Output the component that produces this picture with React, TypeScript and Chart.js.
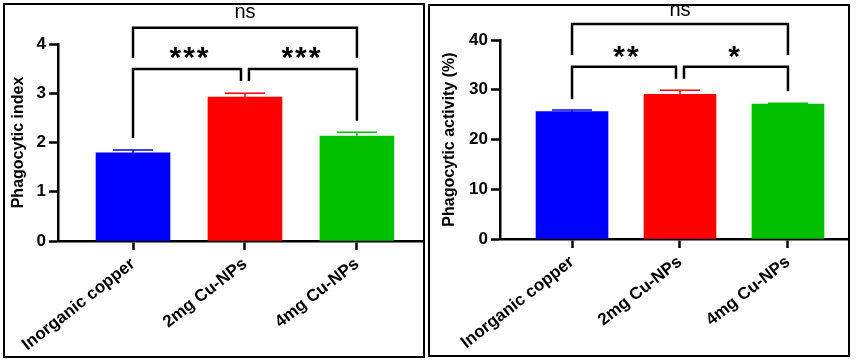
import React, { useEffect, useRef } from 'react';
import { Chart, registerables } from 'chart.js';

Chart.register(...registerables);

const FONT = '"Liberation Sans", Arial, Helvetica, sans-serif';

// ---- data ----
const categories = ['Inorganic copper', '2mg Cu-NPs', '4mg Cu-NPs'];
const barColors = ['#0000FF', '#FF0000', '#00C000'];

const indexMeans = [1.79, 2.92, 2.13];
const indexErrors = [0.06, 0.08, 0.08];
const indexTicks = [0, 1, 2, 3, 4];

const activityMeans = [25.6, 29.1, 27.1];
const activityErrors = [0.35, 0.8, 0.2];
const activityTicks = [0, 10, 20, 30, 40];

// significance brackets (category indices, heights in data units)
const indexBrackets = [
  { from: 0, to: 2, level: 4.33, fromEnd: 3.72, toEnd: 3.72, label: 'ns', labelAt: 4.64 },
  { from: 0, to: 1, level: 3.49, fromEnd: 2.09, toEnd: 3.25, label: '***', labelAt: 3.82 },
  { from: 1, to: 2, level: 3.49, fromEnd: 3.25, toEnd: 2.44, label: '***', labelAt: 3.82 },
];
const activityBrackets = [
  { from: 0, to: 2, level: 43.2, fromEnd: 37.0, toEnd: 37.0, label: 'ns', labelAt: 46.0 },
  { from: 0, to: 1, level: 34.6, fromEnd: 28.1, toEnd: 32.2, label: '**', labelAt: 37.6 },
  { from: 1, to: 2, level: 34.6, fromEnd: 32.2, toEnd: 29.7, label: '*', labelAt: 37.6 },
];

type Bracket = { from: number; to: number; level: number; fromEnd: number; toEnd: number; label: string; labelAt: number };

type Spec = {
  means: number[];
  errors: number[];
  ticks: number[];
  brackets: Bracket[];
  title: string;
  yMax: number;
  xMin: number;
  xMax: number;
  barWidth: number;
  padTop: number;
  yAxisWidth: number;
  xAxisHeight: number;
  titlePad: number;
};

function annotationPlugin(spec: Spec) {
  return {
    id: 'sigAnnotations',
    afterDatasetsDraw(chart: any) {
      const ctx: CanvasRenderingContext2D = chart.ctx;
      const xs = chart.scales.x;
      const ys = chart.scales.y;
      const meta = chart.getDatasetMeta(0);
      ctx.save();
      // error bars (upper only)
      meta.data.forEach((bar: any, i: number) => {
        const cx = bar.x;
        const top = ys.getPixelForValue(spec.means[i] + spec.errors[i]);
        const base = ys.getPixelForValue(spec.means[i]);
        ctx.strokeStyle = barColors[i];
        ctx.lineWidth = 1.5;
        ctx.beginPath();
        ctx.moveTo(cx, base);
        ctx.lineTo(cx, top);
        ctx.moveTo(cx - 20, top);
        ctx.lineTo(cx + 20, top);
        ctx.stroke();
      });
      // brackets
      const gap = 4;
      spec.brackets.forEach((b) => {
        const shares = (idx: number) =>
          spec.brackets.some((o) => o !== b && o.level === b.level && (o.from === idx || o.to === idx));
        const x1 = xs.getPixelForValue(b.from) + (shares(b.from) ? gap : 0);
        const x2 = xs.getPixelForValue(b.to) - (shares(b.to) ? gap : 0);
        const yl = ys.getPixelForValue(b.level);
        ctx.strokeStyle = '#000';
        ctx.lineWidth = 2.5;
        ctx.lineJoin = 'miter';
        ctx.lineCap = 'butt';
        ctx.beginPath();
        ctx.moveTo(x1, ys.getPixelForValue(b.fromEnd));
        ctx.lineTo(x1, yl);
        ctx.lineTo(x2, yl);
        ctx.lineTo(x2, ys.getPixelForValue(b.toEnd));
        ctx.stroke();
        // label
        const isStar = b.label.indexOf('*') >= 0;
        const spacing = isStar ? 2 : 0;
        ctx.fillStyle = '#000';
        ctx.font = isStar ? `bold 30px ${FONT}` : `20px ${FONT}`;
        (ctx as any).letterSpacing = `${spacing}px`;
        ctx.textAlign = 'center';
        ctx.textBaseline = 'alphabetic';
        const m = ctx.measureText(b.label);
        const ty = ys.getPixelForValue(b.labelAt) + (m.actualBoundingBoxAscent - m.actualBoundingBoxDescent) / 2;
        const tx = (xs.getPixelForValue(b.from) + xs.getPixelForValue(b.to)) / 2 + spacing / 2;
        ctx.fillText(b.label, tx, ty);
      });
      ctx.restore();
    },
  };
}

function makeConfig(spec: Spec): any {
  const tickFont = { family: FONT, size: 17, weight: 'bold' as const };
  return {
    type: 'bar',
    data: {
      datasets: [
        {
          data: spec.means.map((v, i) => ({ x: i, y: v })),
          backgroundColor: barColors,
          borderWidth: 0,
          barThickness: spec.barWidth,
        },
      ],
    },
    options: {
      animation: false,
      responsive: false,
      events: [],
      layout: { padding: { top: spec.padTop, left: 0, right: 0, bottom: 0 } },
      plugins: { legend: { display: false }, tooltip: { enabled: false }, title: { display: false } },
      scales: {
        x: {
          type: 'linear',
          offset: false,
          bounds: 'data',
          min: spec.xMin,
          max: spec.xMax,
          afterBuildTicks: (s: any) => {
            s.ticks = categories.map((_, i) => ({ value: i }));
          },
          afterFit: (s: any) => {
            s.height = spec.xAxisHeight;
          },
          ticks: {
            autoSkip: false,
            minRotation: 38,
            maxRotation: 38,
            padding: 4,
            color: '#000',
            font: tickFont,
            callback: (v: any) => categories[v] ?? '',
          },
          grid: { offset: false, drawOnChartArea: false, drawTicks: true, tickLength: 9, tickWidth: 2.5, color: '#000' },
          border: { display: true, color: '#000', width: 2.5 },
        },
        y: {
          min: 0,
          max: spec.yMax,
          afterBuildTicks: (s: any) => {
            s.ticks = spec.ticks.map((v) => ({ value: v }));
          },
          afterFit: (s: any) => {
            s.width = spec.yAxisWidth;
          },
          ticks: { padding: 3, color: '#000', font: tickFont },
          grid: { drawOnChartArea: false, drawTicks: true, tickLength: 9, tickWidth: 2.5, color: '#000' },
          border: { display: true, color: '#000', width: 2.5 },
          title: {
            display: true,
            text: spec.title,
            color: '#000',
            font: { family: FONT, size: 16, weight: 'bold' },
            padding: { top: spec.titlePad, bottom: 0 },
          },
        },
      },
    },
    plugins: [annotationPlugin(spec)],
  };
}

function Panel({ spec, width, height }: { spec: Spec; width: number; height: number }) {
  const ref = useRef<HTMLCanvasElement | null>(null);
  useEffect(() => {
    if (!ref.current) return;
    const chart = new Chart(ref.current, makeConfig(spec));
    return () => chart.destroy();
  }, [spec]);
  return <canvas ref={ref} width={width} height={height} style={{ display: 'block', width, height }} />;
}

const indexSpec: Spec = {
  means: indexMeans,
  errors: indexErrors,
  ticks: indexTicks,
  brackets: indexBrackets,
  title: 'Phagocytic index',
  yMax: 4,
  xMin: -0.67,
  xMax: 2.59,
  barWidth: 74,
  padTop: 39,
  yAxisWidth: 53,
  xAxisHeight: 115,
  titlePad: 4,
};

const activitySpec: Spec = {
  means: activityMeans,
  errors: activityErrors,
  ticks: activityTicks,
  brackets: activityBrackets,
  title: 'Phagocytic activity (%)',
  yMax: 40,
  xMin: -0.667,
  xMax: 2.556,
  barWidth: 72,
  padTop: 34,
  yAxisWidth: 70,
  xAxisHeight: 116,
  titlePad: 10,
};

export default function App() {
  return (
    <div style={{ position: 'fixed', left: 0, top: 0, width: 857, height: 362, background: '#fff' }}>
      <div style={{ position: 'absolute', left: 3, top: 3, width: 418, height: 351, border: '2px solid #000' }}>
        <Panel spec={indexSpec} width={418} height={351} />
      </div>
      <div style={{ position: 'absolute', left: 428, top: 4, width: 418, height: 349, border: '2px solid #000' }}>
        <Panel spec={activitySpec} width={418} height={349} />
      </div>
    </div>
  );
}
